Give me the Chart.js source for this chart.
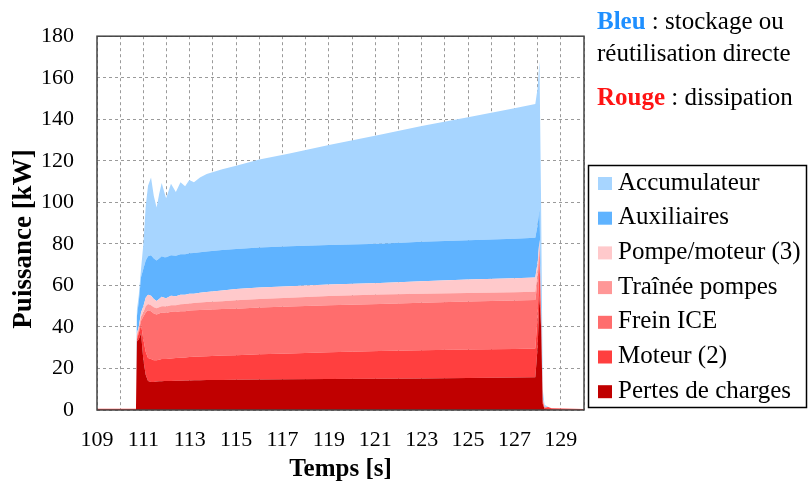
<!DOCTYPE html>
<html lang="fr">
<head>
<meta charset="utf-8">
<title>Puissance dissipée / stockée</title>
<script src="https://cdn.jsdelivr.net/npm/chart.js@4.4.1/dist/chart.umd.min.js"></script>
<style>
  html, body { margin: 0; padding: 0; background: #fff; }
  canvas { display: block; }
</style>
</head>
<body>
<canvas id="puissance" width="809" height="486"></canvas>
<script>
// temps [s]
const temps = [109, 110.68, 110.72, 110.8, 110.9, 111.0, 111.1, 111.2, 111.33, 111.45, 111.57, 111.68, 111.79, 111.9, 111.98,
  112.19, 112.4, 112.6, 112.8, 112.98, 113.18, 113.44, 113.73, 114.4, 115, 116, 117.3, 119, 121.2, 123, 125, 127, 127.9,
  128.0, 128.08, 128.15, 128.22, 128.3, 128.45, 128.6, 130];

// puissance de chaque poste [kW]
const pertesCharges = [0, 0, 33, 34, 37, 24, 17, 14, 13.5, 13.5, 13.7, 13.8, 13.9, 14, 14,
  14, 14.1, 14.1, 14.2, 14.2, 14.3, 14.3, 14.4, 14.5, 14.6, 14.7, 14.8, 14.9, 15, 15.2, 15.4, 15.6, 15.8,
  30, 55, 40, 3, 0.5, 0.3, 0.2, 0];
const moteur2 = [0.6, 0.6, 1, 3, 4, 10, 11, 11, 11, 10.5, 10.3, 10.4, 10.6, 10.5, 10.5,
  10.8, 10.9, 11.1, 11.1, 11.3, 11.3, 11.5, 11.5, 11.7, 11.8, 12.1, 12.4, 12.9, 13.4, 13.6, 13.7, 13.8, 13.8,
  15, 17, 4, 1, 0.5, 1.2, 0.6, 0.5];
const freinICE = [0, 0, 1, 1, 2, 11, 19, 23, 23, 22.5, 22, 22.3, 22.5, 22.3, 22.2,
  22.5, 22.2, 22.4, 22.3, 22.4, 22.4, 22.4, 22.4, 22.4, 22.4, 22.5, 22.6, 22.7, 22.7, 22.9, 23.1, 23.3, 23.4,
  17, 5, 2, 0.5, 0.2, 0, 0, 0];
const traineePompes = [0, 0, 1, 1, 2, 2, 3, 3, 3, 3, 3, 3, 3, 3.2, 3.1,
  3.2, 3.3, 3.3, 3.4, 3.4, 3.5, 3.6, 3.7, 3.8, 4.1, 4.2, 4.3, 4.4, 4.5, 4.3, 4.2, 4.0, 3.9,
  4, 2, 1, 0.5, 0.1, 0, 0, 0];
const pompeMoteur3 = [0, 0, 1, 1, 2, 3, 4, 4.5, 4.5, 4, 3.5, 4, 4.5, 4, 4,
  4.5, 4.3, 4.6, 4.5, 4.7, 4.5, 4.7, 4.8, 5.1, 5.4, 5.5, 5.5, 5.5, 5.5, 6, 6.4, 6.7, 6.9,
  5, 3, 1, 0.5, 0.1, 0, 0, 0];
const auxiliaires = [0, 0, 8, 12, 17, 18, 18, 18.5, 19.5, 19.5, 19.5, 19.5, 19.5, 19.5, 19.7,
  19.5, 19.5, 19.5, 19.5, 19.5, 19.6, 19.5, 19.5, 19.5, 19.2, 19.2, 19.2, 19.1, 19, 19, 19, 19.1, 19.2,
  18, 15, 7, 0.5, 0.1, 0, 0, 0];
const accumulateur = [0, 0, 3, 3, 4, 12, 26, 34, 37.5, 30, 25.5, 31, 35.3, 31.5, 28.5,
  34.5, 30.7, 34.7, 32.7, 35.3, 34.1, 36, 37.3, 38.9, 40.1, 42.4, 44.7, 48.1, 52.4, 55.7, 59.2, 62.8, 64.4,
  66, 71, 45, 4, 1, 0.1, 0, 0];

const postes = ['Pertes de charges', 'Moteur (2)', 'Frein ICE', 'Traînée pompes', 'Pompe/moteur (3)', 'Auxiliaires', 'Accumulateur'];
const series = [pertesCharges, moteur2, freinICE, traineePompes, pompeMoteur3, auxiliaires, accumulateur];
const couleurs = ['#c00000', '#ff3f3f', '#ff6d6d', '#ff9797', '#ffc9cb', '#5fb3ff', '#a7d5ff'];

const xTicks = [109, 111, 113, 115, 117, 119, 121, 123, 125, 127, 129];
const yTicks = [0, 20, 40, 60, 80, 100, 120, 140, 160, 180];

const serif = '"Liberation Serif", "DejaVu Serif", serif';

const datasets = series.map((vals, i) => ({
  label: postes[i],
  data: vals.map((v, k) => ({ x: temps[k], y: v })),
  backgroundColor: couleurs[i],
  borderWidth: 0,
  pointRadius: 0,
  tension: 0,
  fill: i === 0 ? 'origin' : '-1'
}));

// cadre, titres d'axes, légende et annotations
const decor = {
  id: 'decor',
  afterDraw(chart) {
    const { ctx, chartArea: a } = chart;
    ctx.save();

    ctx.strokeStyle = '#444';
    ctx.lineWidth = 1.5;
    ctx.strokeRect(a.left, a.top, a.right - a.left, a.bottom - a.top);

    ctx.fillStyle = '#000';
    ctx.font = 'bold 25px ' + serif;
    ctx.textAlign = 'center';
    ctx.textBaseline = 'middle';
    ctx.fillText('Temps [s]', (a.left + a.right) / 2, 470);

    ctx.save();
    ctx.translate(24, 239);
    ctx.rotate(-Math.PI / 2);
    ctx.font = 'bold 27px ' + serif;
    ctx.fillText('Puissance [kW]', 0, 0);
    ctx.restore();

    // annotations
    ctx.textAlign = 'left';
    ctx.textBaseline = 'alphabetic';
    ctx.font = 'bold 25px ' + serif;
    ctx.fillStyle = '#1e8fff';
    ctx.fillText('Bleu', 597, 29);
    let w = ctx.measureText('Bleu').width;
    ctx.font = '25px ' + serif;
    ctx.fillStyle = '#000';
    ctx.fillText(' : stockage ou', 597 + w, 29);
    ctx.fillText('réutilisation directe', 597, 61);
    ctx.font = 'bold 25px ' + serif;
    ctx.fillStyle = '#ff1414';
    ctx.fillText('Rouge', 597, 105);
    w = ctx.measureText('Rouge').width;
    ctx.font = '25px ' + serif;
    ctx.fillStyle = '#000';
    ctx.fillText(' : dissipation', 597 + w, 105);

    // légende
    ctx.strokeStyle = '#000';
    ctx.lineWidth = 1.5;
    ctx.strokeRect(588.5, 165.5, 218, 242);
    const items = chart.data.datasets.slice().reverse();
    ctx.font = '25px ' + serif;
    items.forEach((ds, i) => {
      const cy = 183.5 + i * 34.7;
      ctx.fillStyle = ds.backgroundColor;
      ctx.fillRect(598, cy - 6.5, 14, 13);
      ctx.fillStyle = '#000';
      ctx.fillText(ds.label, 618, cy + 6);
    });

    ctx.restore();
  }
};

new Chart(document.getElementById('puissance'), {
  type: 'line',
  data: { datasets },
  options: {
    responsive: false,
    animation: false,
    devicePixelRatio: 1,
    layout: { padding: { top: 19, right: 225, left: 0, bottom: 0 } },
    plugins: {
      legend: { display: false },
      tooltip: { enabled: false }
    },
    scales: {
      x: {
        type: 'linear',
        min: 109,
        max: 130,
        afterFit: (s) => { s.height = 76; },
        ticks: {
          stepSize: 1,
          autoSkip: false,
          maxRotation: 0,
          padding: 17,
          color: '#000',
          font: { family: serif, size: 22 },
          callback: (v) => xTicks.includes(Math.round(v)) ? String(Math.round(v)) : ''
        },
        grid: { color: '#9a9a9a', lineWidth: 1, drawTicks: false },
        border: { display: false, dash: [3, 3] }
      },
      y: {
        stacked: true,
        min: 0,
        max: 180,
        afterFit: (s) => { s.width = 97; },
        ticks: {
          stepSize: 20,
          padding: 23,
          color: '#000',
          font: { family: serif, size: 22 },
          callback: (v) => yTicks.includes(v) ? String(v) : ''
        },
        grid: { color: '#9a9a9a', lineWidth: 1, drawTicks: false },
        border: { display: false, dash: [3, 3] }
      }
    }
  },
  plugins: [decor]
});
</script>
</body>
</html>
